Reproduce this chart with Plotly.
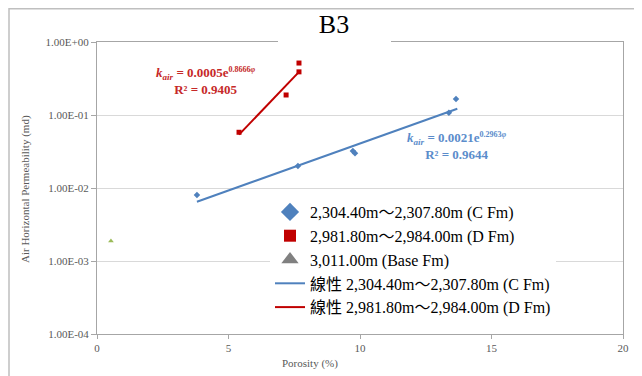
import plotly.graph_objects as go
import math

# ---- data ----
c_x = [3.8, 7.64, 9.73, 9.81, 13.38, 13.65]
c_y = [0.0080, 0.020, 0.032, 0.030, 0.107, 0.166]
d_x = [5.40, 7.19, 7.68, 7.68]
d_y = [0.058, 0.188, 0.39, 0.515]
b_x = [0.53]
b_y = [0.00188]

# trendline coefficients (k = a * exp(b * phi)) and x ranges
c_fit = (0.0021, 0.2963)
c_fit_x = [3.8, 13.7]
d_fit = (0.0005, 0.8666)
d_fit_x = [5.4, 7.7]

name_c = "2,304.40m～2,307.80m (C Fm)"
name_d = "2,981.80m～2,984.00m (D Fm)"
name_b = "3,011.00m (Base Fm)"
name_lc = "線性 2,304.40m～2,307.80m (C Fm)"
name_ld = "線性 2,981.80m～2,984.00m (D Fm)"

y_tickvals = [1e-4, 1e-3, 1e-2, 1e-1, 1e0]
y_ticktext = ["1.00E-04", "1.00E-03", "1.00E-02", "1.00E-01", "1.00E+00"]
x_tickvals = [0, 5, 10, 15, 20]

BLUE = "#4F81BD"
RED = "#C00000"
GREEN = "#9BBB59"
GRAY = "#808080"

FONT = "Liberation Serif, Times New Roman, Noto Sans CJK TC, serif"

fig = go.Figure()

# data traces (no legend)
fig.add_trace(go.Scatter(x=c_x, y=c_y, mode="markers", showlegend=False,
                         marker=dict(symbol="diamond", size=5, color=BLUE)))
fig.add_trace(go.Scatter(x=d_x, y=d_y, mode="markers", showlegend=False,
                         marker=dict(symbol="square", size=5, color=RED)))
fig.add_trace(go.Scatter(x=b_x, y=b_y, mode="markers", showlegend=False,
                         marker=dict(symbol="triangle-up", size=5, color=GREEN)))

# legend-only marker entries
fig.add_trace(go.Scatter(x=[None], y=[None], mode="markers", name=name_c,
                         marker=dict(symbol="diamond", size=14, color=BLUE)))
fig.add_trace(go.Scatter(x=[None], y=[None], mode="markers", name=name_d,
                         marker=dict(symbol="square", size=12, color=RED)))
fig.add_trace(go.Scatter(x=[None], y=[None], mode="markers", name=name_b,
                         marker=dict(symbol="triangle-up", size=15, color=GRAY)))

# trendlines
fig.add_trace(go.Scatter(x=c_fit_x, y=[c_fit[0] * math.exp(c_fit[1] * v) for v in c_fit_x],
                         mode="lines", name=name_lc, line=dict(color=BLUE, width=2)))
fig.add_trace(go.Scatter(x=d_fit_x, y=[d_fit[0] * math.exp(d_fit[1] * v) for v in d_fit_x],
                         mode="lines", name=name_ld, line=dict(color=RED, width=2)))

# page body has an 8px margin: lay out in reference-pixel terms, shifted by OFF
OFF = 8
W, H = 642 - OFF, 376 - OFF
PL, PT, PR, PB = 97, 42, 623, 334          # plot area in reference pixels
L, T = PL - OFF, PT - OFF
R, B = W - (PR - OFF), H - (PB - OFF)
pw, ph = PR - PL, PB - PT

def px(xp):
    return (xp - PL) / pw

def py(yp):
    return (PB - yp) / ph

fig.update_layout(
    width=W, height=H,
    margin=dict(l=L, r=R, t=T, b=B),
    paper_bgcolor="white", plot_bgcolor="white",
    font=dict(family=FONT, color="#595959", size=11),
    title=dict(text="B3", font=dict(family=FONT, size=26, color="black"),
               xref="container", x=(334 - OFF) / W, xanchor="center",
               yref="container", y=1 - (24 - OFF) / H, yanchor="middle"),
    xaxis=dict(range=[0, 20], tickvals=x_tickvals, showgrid=False, zeroline=False,
               showline=True, linecolor="#A6A6A6", linewidth=1, mirror=True,
               ticks="outside", ticklen=4, tickcolor="#A6A6A6",
               tickfont=dict(family=FONT, size=11, color="#595959")),
    yaxis=dict(type="log", range=[-4, 0], tickvals=y_tickvals, ticktext=y_ticktext,
               showgrid=True, gridcolor="#D9D9D9", gridwidth=1, zeroline=False,
               showline=True, linecolor="#A6A6A6", linewidth=1, mirror=True,
               ticks="outside", ticklen=5, tickcolor="#A6A6A6",
               tickfont=dict(family=FONT, size=11, color="#595959")),
    legend=dict(x=px(270), y=py(195), xanchor="left", yanchor="top",
                bgcolor="white", borderwidth=0,
                font=dict(family=FONT, size=16, color="black"),
                itemwidth=30),
    showlegend=True,
)

# title box covering the top border, and outer chart frame
fig.add_shape(type="rect", xref="paper", yref="paper",
              x0=px(278), x1=px(391), y0=py(44), y1=py(10),
              fillcolor="white", line=dict(width=0), layer="above")
fig.add_shape(type="rect", xref="paper", yref="paper",
              x0=px(9), x1=px(636), y0=py(385), y1=py(8.8),
              fillcolor="rgba(0,0,0,0)", line=dict(color="#BFBFBF", width=1.5))

# axis titles
fig.add_annotation(text="Porosity (%)", xref="paper", yref="paper",
                   x=px(310), y=py(363), xanchor="center", yanchor="middle",
                   showarrow=False, font=dict(family=FONT, size=11, color="#595959"))
fig.add_annotation(text="Air Horizontal Permeability (md)", xref="paper", yref="paper",
                   x=px(25), y=py(189), xanchor="center", yanchor="middle",
                   showarrow=False, textangle=-90,
                   font=dict(family=FONT, size=11, color="#595959"))

# equations
SUP = '<sup><span style="font-size:8px">{}<i>φ</i></span></sup>'
fig.add_annotation(text="<b><i>k<sub>air</sub></i> = 0.0005e" + SUP.format("0.8666") + "</b><br><b>R² = 0.9405</b>",
                   xref="paper", yref="paper", x=px(206), y=py(81),
                   xanchor="center", yanchor="middle", showarrow=False,
                   align="center", font=dict(family=FONT, size=13, color="#C62828"))
fig.add_annotation(text="<b><i>k<sub>air</sub></i> = 0.0021e" + SUP.format("0.2963") + "</b><br><b>R² = 0.9644</b>",
                   xref="paper", yref="paper", x=px(457), y=py(146),
                   xanchor="center", yanchor="middle", showarrow=False,
                   align="center", font=dict(family=FONT, size=13, color="#5B8CCB"))

fig.write_html("out.html")
